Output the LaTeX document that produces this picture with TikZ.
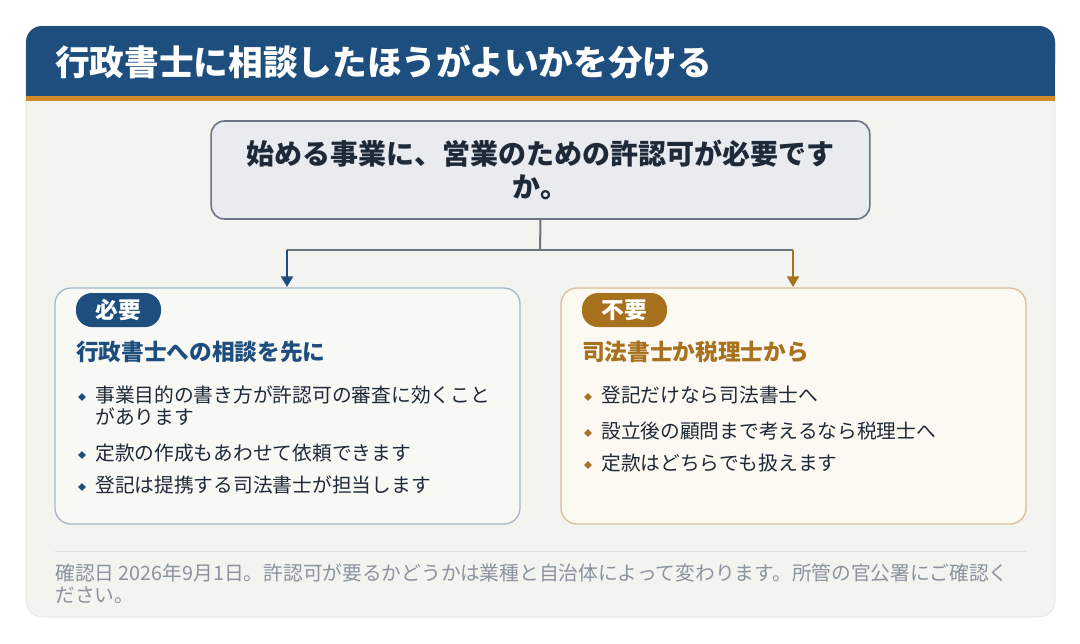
\documentclass[tikz,border=0pt]{standalone}
\usepackage{fontspec}
\setmainfont{Noto Sans CJK JP}
\usetikzlibrary{arrows.meta,shapes.geometric}
\definecolor{navy}{HTML}{1D4E7E}
\definecolor{ora}{HTML}{D08A2A}
\definecolor{brn}{HTML}{A8711D}
\definecolor{card}{HTML}{F3F3EF}
\definecolor{qfill}{HTML}{E8EBEF}
\definecolor{qline}{HTML}{6B7480}
\definecolor{txt}{HTML}{1F2A38}
\definecolor{foot}{HTML}{8A939E}
\tikzset{
 bul/.style={anchor=west,font=\fontsize{14.8}{16.5}\selectfont,text=txt,inner sep=0pt},
 dia/.style={diamond,fill=#1,inner sep=0pt,minimum size=6pt},
 badge/.style={rounded corners=12pt,fill=#1,text=white,font=\bfseries\fontsize{17}{18}\selectfont,minimum width=63.75pt,minimum height=25.5pt},
}
\begin{document}
\begin{tikzpicture}[x=0.75pt,y=-0.75pt]
\useasboundingbox (0,0) rectangle (1080,643);
\fill[white] (0,0) rectangle (1080,643);
\draw[draw=black!12,fill=card,rounded corners=12pt] (26,26) rectangle (1055,617);
\fill[navy,rounded corners=12pt] (26,26) rectangle (1055,80);
\fill[navy] (26,60) rectangle (1055,96);
\fill[ora] (26,96) rectangle (1055,101);
\node[anchor=west,text=white,font=\bfseries\fontsize{26}{28}\selectfont,inner sep=0pt] (title) at (55,62) {行政書士に相談したほうがよいかを分ける};
\node[draw=qline,line width=1.2pt,fill=qfill,rounded corners=10pt,minimum width=494pt,minimum height=73.5pt,align=center,text=txt,font=\bfseries\fontsize{21}{25}\selectfont] (q) at (540.5,170) {始める事業に、営業のための許認可が必要です\\か。};
\coordinate (j) at (540,250);
\coordinate (l) at (287,250);
\coordinate (r) at (793,250);
\draw[qline,line width=1.5pt] (q.south) -- (j);
\draw[qline,line width=1.5pt] (l) -- (r);
\draw[navy,line width=1.5pt,-{Triangle[length=8pt,width=9pt]}] (l) -- (287,287);
\draw[brn,line width=1.5pt,-{Triangle[length=8pt,width=9pt]}] (r) -- (793,287);
% left
\draw[draw=navy!40,line width=1pt,fill=card!60!white,rounded corners=12pt] (55,288) rectangle (520,524);
\node[badge=navy] (b1) at (118.5,310) {必要};
\node[anchor=west,text=navy,font=\bfseries\fontsize{17}{18}\selectfont,inner sep=0pt] (h1) at (76,352) {行政書士への相談を先に};
\node[dia=navy] at (82,397) {};
\node[bul,align=left,anchor=west] (l1) at (95,406) {事業目的の書き方が許認可の審査に効くこと\\があります};
\node[dia=navy] at (82,455) {};
\node[bul] (l2) at (95,453) {定款の作成もあわせて依頼できます};
\node[dia=navy] at (82,487) {};
\node[bul] (l3) at (95,485) {登記は提携する司法書士が担当します};
% right
\draw[draw=brn!45,line width=1pt,fill=ora!6!white,rounded corners=12pt] (561,288) rectangle (1026,524);
\node[badge=brn] (b2) at (624.5,310) {不要};
\node[anchor=west,text=brn,font=\bfseries\fontsize{17}{18}\selectfont,inner sep=0pt] (h2) at (582,352) {司法書士か税理士から};
\node[dia=brn] at (588,397) {};
\node[bul] (r1) at (601,395) {登記だけなら司法書士へ};
\node[dia=brn] at (588,433) {};
\node[bul] (r2) at (601,431) {設立後の顧問まで考えるなら税理士へ};
\node[dia=brn] at (588,465) {};
\node[bul] (r3) at (601,463) {定款はどちらでも扱えます};
% footer
\draw[black!12] (55,551) -- (1026,551);
\node[anchor=north west,align=left,text=foot,font=\fontsize{14.8}{16.5}\selectfont,inner sep=0pt] (f) at (55,564) {確認日 2026年9月1日。許認可が要るかどうかは業種と自治体によって変わります。所管の官公署にご確認く\\ださい。};
\end{tikzpicture}
\end{document}
